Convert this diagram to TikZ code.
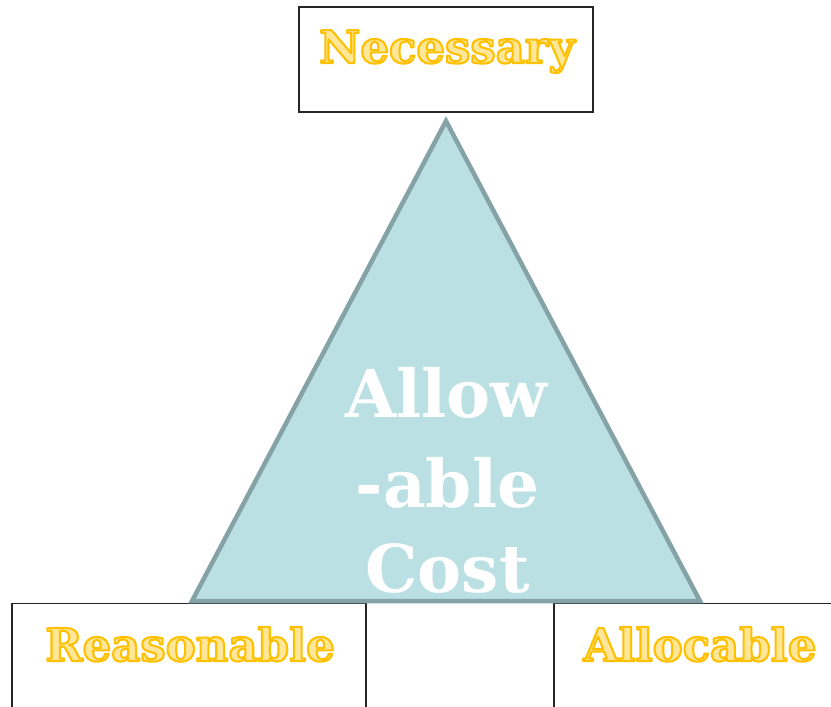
\documentclass[tikz,border=0pt]{standalone}
\usepackage{fontspec}
\setmainfont{DejaVu Serif}
\usetikzlibrary{positioning}
\definecolor{tri}{HTML}{BAE0E3}
\definecolor{triedge}{HTML}{85A3A6}
\definecolor{gold}{HTML}{FFC000}
\definecolor{pale}{HTML}{FFE699}
\newcommand{\goldtext}[1]{\textcolor{pale}{\special{pdf:literal direct 1 0.753 0 RG 2.1 w 1 j 2 Tr}#1\special{pdf:literal direct 0 Tr}}}
\tikzset{
  labelbox/.style={draw=black!85, line width=1.1pt, fill=white, inner sep=0pt},
  goldlabel/.style={font=\bfseries\fontsize{45}{50}\selectfont, inner sep=0pt, anchor=base},
  centertext/.style={font=\bfseries\fontsize{66}{70}\selectfont, text=white, inner sep=0pt, anchor=base}
}
\begin{document}
\begin{tikzpicture}[x=1pt,y=-1pt]
\useasboundingbox (0,0) rectangle (831,707);
% boxes
\node[labelbox, minimum width=294pt, minimum height=105pt] (nbox) at (446,59.5) {};
\node[labelbox, minimum width=354pt, minimum height=112pt] (rbox) at (189,659.5) {};
\node[labelbox, minimum width=290pt, minimum height=112pt] (abox) at (699,659.5) {};
% triangle
\coordinate (apex) at (446,121);
\coordinate (bl) at (192,601);
\coordinate (br) at (700,601);
\draw[fill=tri, draw=triedge, line width=4.5pt, line join=miter] (apex) -- (bl) -- (br) -- cycle;
% labels
\node[goldlabel] (nec) at (447,63) {\goldtext{Necessary}};
\node[goldlabel] (rea) at (190,661) {\goldtext{Reasonable}};
\node[goldlabel] (all) at (700,661) {\goldtext{Allocable}};
\node[centertext] (t1) at (446.5,417) {Allow};
\node[centertext] (t2) at (447.5,507) {-able};
\node[centertext] (t3) at (447.5,592) {Cost};
\end{tikzpicture}
\end{document}
